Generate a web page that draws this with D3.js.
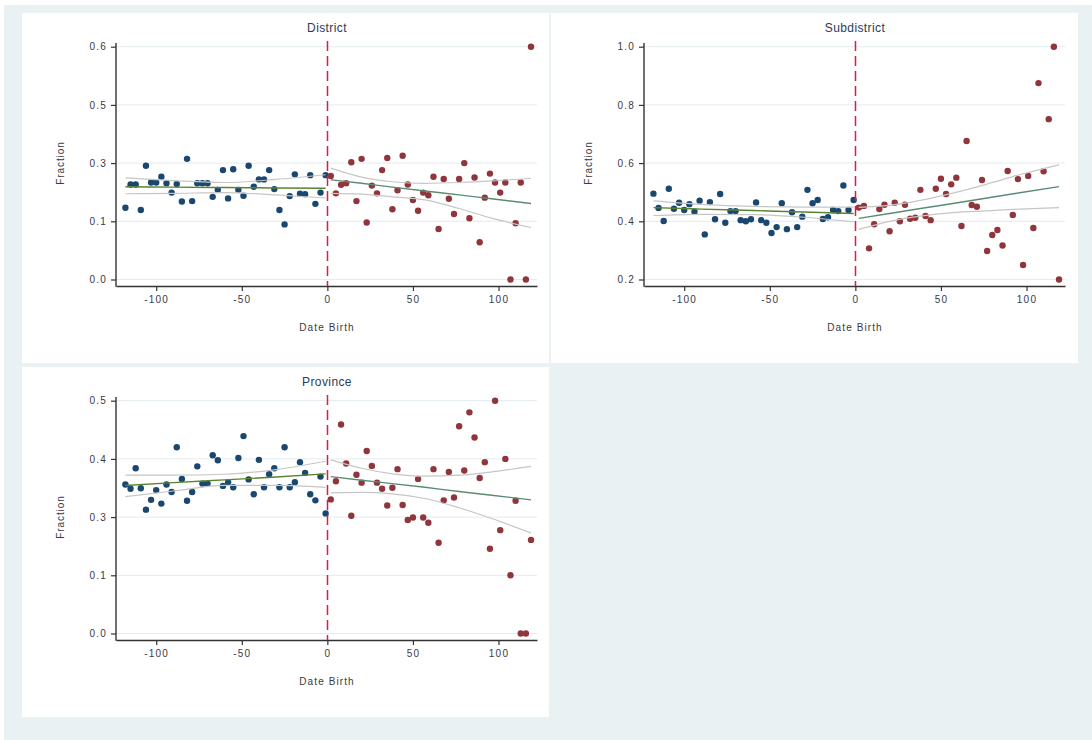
<!DOCTYPE html>
<html>
<head>
<meta charset="utf-8">
<script src="https://cdn.jsdelivr.net/npm/d3@7"></script>
<style>
  body { margin: 0; background: #fff; }
  svg { display: block; font-family: "Liberation Sans", Arial, sans-serif; }
</style>
</head>
<body>
<svg id="chart" width="1092" height="740"></svg>
<script>
// bins of date of birth (days around the cutoff)
const dateBirthLeft = [-118, -115, -112, -109, -106, -103, -100, -97, -94, -91, -88, -85, -82, -79, -76, -73, -70, -67, -64, -61,
  -58, -55, -52, -49, -46, -43, -40, -37, -34, -31, -28, -25, -22, -19, -16, -13, -10, -7, -4, -1];
const dateBirthRight = [2, 5, 8, 11, 14, 17, 20, 23, 26, 29, 32, 35, 38, 41, 44, 47, 50, 53, 56, 59,
  62, 65, 68, 71, 74, 77, 80, 83, 86, 89, 92, 95, 98, 101, 104, 107, 110, 113, 116, 119];

const districtLeft = [0.185, 0.245, 0.245, 0.179, 0.293, 0.25, 0.25, 0.265, 0.248, 0.224, 0.246, 0.201, 0.311, 0.202, 0.248, 0.248, 0.248, 0.213, 0.231, 0.282,
  0.209, 0.284, 0.231, 0.216, 0.293, 0.239, 0.258, 0.258, 0.282, 0.233, 0.179, 0.142, 0.215, 0.271, 0.221, 0.22, 0.269, 0.195, 0.224, 0.269];
const districtRight = [0.267, 0.222, 0.244, 0.248, 0.302, 0.202, 0.311, 0.147, 0.242, 0.222, 0.282, 0.313, 0.181, 0.23, 0.319, 0.245, 0.205, 0.177, 0.224, 0.217,
  0.265, 0.13, 0.259, 0.208, 0.169, 0.259, 0.3, 0.158, 0.263, 0.096, 0.211, 0.273, 0.25, 0.224, 0.25, 0, 0.145, 0.25, 0, 0.6];

const subdistrictLeft = [0.495, 0.446, 0.401, 0.512, 0.443, 0.464, 0.439, 0.459, 0.433, 0.471, 0.355, 0.466, 0.407, 0.494, 0.395, 0.435, 0.435, 0.404, 0.4, 0.407,
  0.465, 0.404, 0.395, 0.36, 0.38, 0.462, 0.373, 0.431, 0.38, 0.416, 0.508, 0.462, 0.473, 0.408, 0.414, 0.439, 0.435, 0.523, 0.439, 0.473];
const subdistrictRight = [0.447, 0.453, 0.307, 0.39, 0.442, 0.457, 0.366, 0.464, 0.4, 0.457, 0.409, 0.412, 0.508, 0.418, 0.404, 0.512, 0.546, 0.494, 0.527, 0.55,
  0.384, 0.676, 0.456, 0.45, 0.542, 0.298, 0.353, 0.37, 0.317, 0.573, 0.422, 0.545, 0.25, 0.556, 0.377, 0.875, 0.572, 0.751, 1.0, 0.2];

const provinceLeft = [0.32, 0.311, 0.355, 0.312, 0.266, 0.287, 0.308, 0.279, 0.32, 0.304, 0.4, 0.332, 0.285, 0.304, 0.359, 0.322, 0.322, 0.383, 0.372, 0.317,
  0.325, 0.314, 0.377, 0.424, 0.331, 0.299, 0.373, 0.314, 0.342, 0.355, 0.314, 0.4, 0.314, 0.325, 0.368, 0.345, 0.299, 0.286, 0.337, 0.258];
const provinceRight = [0.288, 0.327, 0.449, 0.365, 0.253, 0.341, 0.324, 0.392, 0.36, 0.324, 0.311, 0.275, 0.313, 0.353, 0.276, 0.244, 0.249, 0.332, 0.249, 0.238,
  0.353, 0.195, 0.286, 0.347, 0.292, 0.445, 0.35, 0.475, 0.421, 0.334, 0.368, 0.182, 0.5, 0.222, 0.375, 0.125, 0.285, 0, 0, 0.201];

// linear fits with confidence bands, read at a few points
const fitKnotsLeft = [-118, -90, -60, -30, -1];
const fitKnotsRight = [2, 20, 38, 57, 77, 96, 119];

const districtFitLeft = [0.239, 0.238, 0.237, 0.236, 0.235];
const districtHiLeft = [0.262, 0.255, 0.25, 0.258, 0.27];
const districtLoLeft = [0.221, 0.222, 0.224, 0.218, 0.21];
const districtFitRight = [0.257, 0.248, 0.238, 0.228, 0.218, 0.208, 0.196];
const districtHiRight = [0.287, 0.264, 0.252, 0.248, 0.25, 0.254, 0.261];
const districtLoRight = [0.222, 0.22, 0.213, 0.205, 0.183, 0.158, 0.134];

const subdistrictFitLeft = [0.447, 0.442, 0.437, 0.432, 0.427];
const subdistrictHiLeft = [0.47, 0.458, 0.451, 0.449, 0.449];
const subdistrictLoLeft = [0.42, 0.424, 0.423, 0.414, 0.398];
const subdistrictFitRight = [0.41, 0.427, 0.444, 0.461, 0.48, 0.498, 0.519];
const subdistrictHiRight = [0.448, 0.455, 0.472, 0.497, 0.528, 0.56, 0.594];
const subdistrictLoRight = [0.372, 0.4, 0.418, 0.43, 0.436, 0.442, 0.447];

const provinceFitLeft = [0.318, 0.324, 0.33, 0.336, 0.343];
const provinceHiLeft = [0.34, 0.34, 0.342, 0.352, 0.37];
const provinceLoLeft = [0.294, 0.306, 0.318, 0.318, 0.314];
const provinceFitRight = [0.337, 0.329, 0.322, 0.314, 0.305, 0.297, 0.287];
const provinceHiRight = [0.373, 0.355, 0.343, 0.338, 0.34, 0.347, 0.359];
const provinceLoRight = [0.302, 0.303, 0.3, 0.29, 0.27, 0.247, 0.216];

// ticks
const xTickValues = [-100, -50, 0, 50, 100];
const xTickLabels = ["-100", "-50", "0", "50", "100"];
const districtTicks = [0, 0.15, 0.3, 0.45, 0.6];
const districtTickLabels = ["0.0", "0.1", "0.3", "0.5", "0.6"];
const subdistrictTicks = [0.2, 0.4, 0.6, 0.8, 1.0];
const subdistrictTickLabels = ["0.2", "0.4", "0.6", "0.8", "1.0"];
const provinceTicks = [0, 0.125, 0.25, 0.375, 0.5];
const provinceTickLabels = ["0.0", "0.1", "0.3", "0.4", "0.5"];

const panels = [
  { title: "District", ox: 22, oy: 13, px: 22, w: 527,
    left: districtLeft, right: districtRight,
    fitL: districtFitLeft, hiL: districtHiLeft, loL: districtLoLeft,
    fitR: districtFitRight, hiR: districtHiRight, loR: districtLoRight,
    ticks: districtTicks, labels: districtTickLabels },
  { title: "Subdistrict", ox: 550, oy: 13, px: 551, w: 527,
    left: subdistrictLeft, right: subdistrictRight,
    fitL: subdistrictFitLeft, hiL: subdistrictHiLeft, loL: subdistrictLoLeft,
    fitR: subdistrictFitRight, hiR: subdistrictHiRight, loR: subdistrictLoRight,
    ticks: subdistrictTicks, labels: subdistrictTickLabels },
  { title: "Province", ox: 22, oy: 367, px: 22, w: 527,
    left: provinceLeft, right: provinceRight,
    fitL: provinceFitLeft, hiL: provinceHiLeft, loL: provinceLoLeft,
    fitR: provinceFitRight, hiR: provinceHiRight, loR: provinceLoRight,
    ticks: provinceTicks, labels: provinceTickLabels }
];

const navy = "#1a476f", maroon = "#90353b";
const svg = d3.select("#chart");

svg.append("rect").attr("x", 4).attr("y", 5).attr("width", 1088).attr("height", 735).attr("fill", "#e9f1f3");

const x = d3.scaleLinear().domain([-123.5, 122.5]).range([94, 515]);

panels.forEach(p => {
  svg.append("rect").attr("x", p.px).attr("y", p.oy).attr("width", p.w).attr("height", 350).attr("fill", "#fff");

  const g = svg.append("g").attr("transform", "translate(" + p.ox + "," + p.oy + ")");
  const y = d3.scaleLinear().domain([p.ticks[0], p.ticks[p.ticks.length - 1]]).range([266.5, 33.7]);

  // grid
  g.selectAll(".grid").data(p.ticks).enter().append("line")
    .attr("x1", 94).attr("x2", 515)
    .attr("y1", d => y(d)).attr("y2", d => y(d))
    .attr("stroke", "#e3ecef").attr("stroke-width", 1);

  // x axis
  const xAxis = g.append("g").attr("transform", "translate(0,273)")
    .call(d3.axisBottom(x).tickValues(xTickValues).tickSize(5).tickSizeOuter(0)
      .tickFormat((d, i) => xTickLabels[i]));
  xAxis.select(".domain").attr("stroke", "#333").attr("stroke-width", 1.4);
  xAxis.selectAll(".tick line").attr("stroke", "#333").attr("stroke-width", 1.2);
  xAxis.selectAll(".tick text").attr("y", 10).attr("fill", "#3a3a44")
    .style("font-size", "10px").style("letter-spacing", "1.2px").attr("font-family", null);

  // y axis
  const yAxis = g.append("g").attr("transform", "translate(94,0)")
    .call(d3.axisLeft(y).tickValues(p.ticks).tickSize(5).tickSizeOuter(0)
      .tickFormat((d, i) => p.labels[i]));
  yAxis.select(".domain").remove();
  yAxis.selectAll(".tick line").attr("stroke", "#333").attr("stroke-width", 1.2);
  yAxis.selectAll(".tick text").attr("x", -9).attr("fill", "#3a3a44")
    .style("font-size", "10px").style("letter-spacing", "1.2px").attr("font-family", null);
  g.append("line").attr("x1", 94).attr("x2", 94).attr("y1", 30).attr("y2", 273.7)
    .attr("stroke", "#333").attr("stroke-width", 1.4);

  // titles
  g.append("text").attr("x", 305).attr("y", 18.5).attr("text-anchor", "middle")
    .attr("fill", "#2a3b57").style("font-size", "12px").style("letter-spacing", "0.4px").text(p.title);
  g.append("text").attr("x", 305).attr("y", 317.5).attr("text-anchor", "middle")
    .attr("fill", "#3a3a44").style("font-size", "10px").style("letter-spacing", "1.1px").text("Date Birth");
  g.append("text").attr("transform", "translate(41.5,150) rotate(-90)").attr("text-anchor", "middle")
    .attr("fill", "#3a3a44").style("font-size", "10px").style("letter-spacing", "0.9px").text("Fraction");

  // markers
  g.selectAll(".ptL").data(p.left).enter().append("circle")
    .attr("cx", (d, i) => x(dateBirthLeft[i])).attr("cy", d => y(d)).attr("r", 3.2).attr("fill", navy);
  g.selectAll(".ptR").data(p.right).enter().append("circle")
    .attr("cx", (d, i) => x(dateBirthRight[i])).attr("cy", d => y(d)).attr("r", 3.2).attr("fill", maroon);

  // fitted lines and confidence bands
  const drawLine = (knots, vals, color, width) => {
    const line = d3.line().x((d, i) => x(knots[i])).y(d => y(d)).curve(d3.curveMonotoneX);
    g.append("path").attr("d", line(vals)).attr("fill", "none")
      .attr("stroke", color).attr("stroke-width", width);
  };
  drawLine(fitKnotsLeft, p.hiL, "#c6c6c6", 1.2);
  drawLine(fitKnotsLeft, p.loL, "#c6c6c6", 1.2);
  drawLine(fitKnotsRight, p.hiR, "#c6c6c6", 1.2);
  drawLine(fitKnotsRight, p.loR, "#c6c6c6", 1.2);
  drawLine(fitKnotsLeft, p.fitL, "#5a8431", 1.4);
  drawLine(fitKnotsRight, p.fitR, "#5b8c73", 1.4);

  // cutoff
  const cx0 = Math.round(x(0)) + 0.5;
  g.append("line").attr("x1", cx0).attr("x2", cx0).attr("y1", 28).attr("y2", 273)
    .attr("stroke", "#d81e45").attr("stroke-width", 1.5).attr("stroke-dasharray", "10,5");
});
</script>
</body>
</html>
